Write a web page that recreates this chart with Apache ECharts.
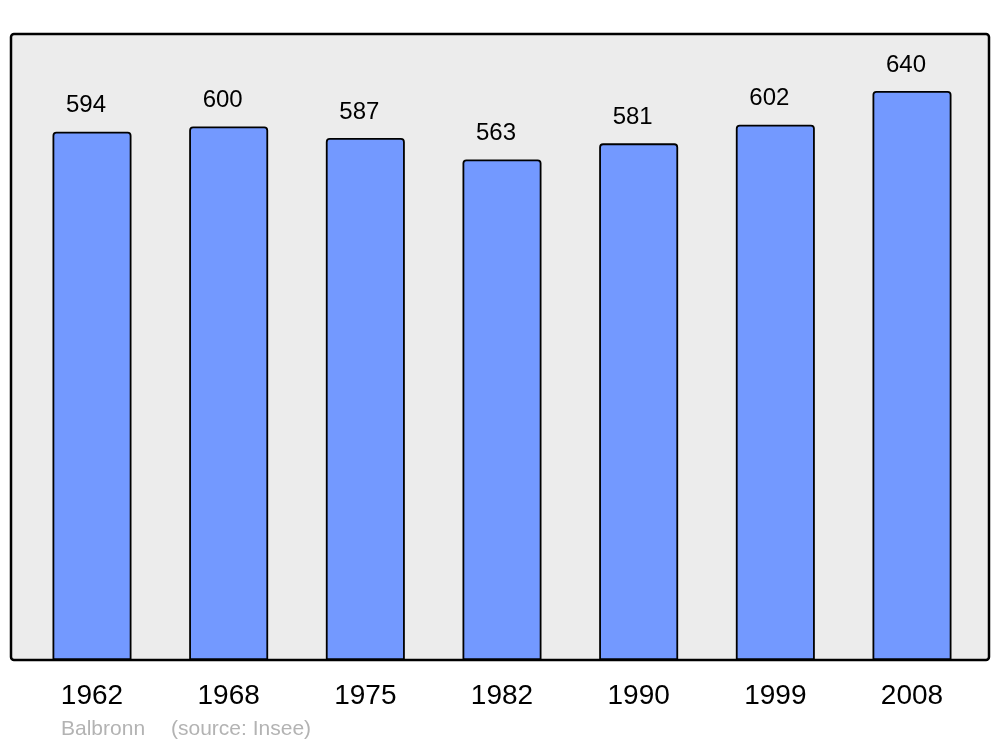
<!DOCTYPE html>
<html>
<head>
<meta charset="utf-8">
<script src="https://cdn.jsdelivr.net/npm/echarts@6/dist/echarts.min.js"></script>
<style>
html,body{margin:0;padding:0;background:#fff;}
#c{width:1000px;height:747px;}
</style>
</head>
<body>
<div id="c"></div>
<script>
var years = ['1962','1968','1975','1982','1990','1999','2008'];
var population = [594, 600, 587, 563, 581, 602, 640];
var footerName = 'Balbronn';
var footerSource = '(source: Insee)';

var chart = echarts.init(document.getElementById('c'), null, {renderer:'canvas'});
chart.setOption({
  animation: false,
  backgroundColor: '#ffffff',
  grid: {left: 23.67, right: 19.67, top: 34, bottom: 87},
  xAxis: {
    type: 'category',
    data: years,
    axisLine: {show: false},
    axisTick: {show: false},
    axisLabel: {
      fontFamily: 'Liberation Sans, Arial, sans-serif',
      fontSize: 28,
      color: '#000',
      margin: 22
    }
  },
  yAxis: {
    type: 'value',
    min: 0,
    max: 704,
    show: false,
    splitLine: {show: false}
  },
  graphic: [
    {
      type: 'rect',
      z: -10,
      shape: {x: 11, y: 34, width: 978, height: 626, r: 3},
      style: {fill: '#ececec', stroke: '#000', lineWidth: 2.5}
    },
    {
      type: 'text',
      left: 61,
      top: 719,
      style: {text: footerName, fontFamily: 'Liberation Sans, Arial, sans-serif', fontSize: 21, fill: '#b3b3b3'}
    },
    {
      type: 'text',
      left: 171,
      top: 719,
      style: {text: footerSource, fontFamily: 'Liberation Sans, Arial, sans-serif', fontSize: 21, fill: '#b3b3b3'}
    }
  ],
  series: [{
    type: 'bar',
    data: population,
    barWidth: 79,
    itemStyle: {
      color: '#7399ff',
      borderColor: '#000',
      borderWidth: 1.8,
      borderRadius: [3,3,0,0]
    },
    label: {
      show: true,
      position: 'top',
      distance: 14,
      offset: [-6, 0],
      fontFamily: 'Liberation Sans, Arial, sans-serif',
      fontSize: 24,
      color: '#000'
    }
  }]
});
</script>
</body>
</html>
